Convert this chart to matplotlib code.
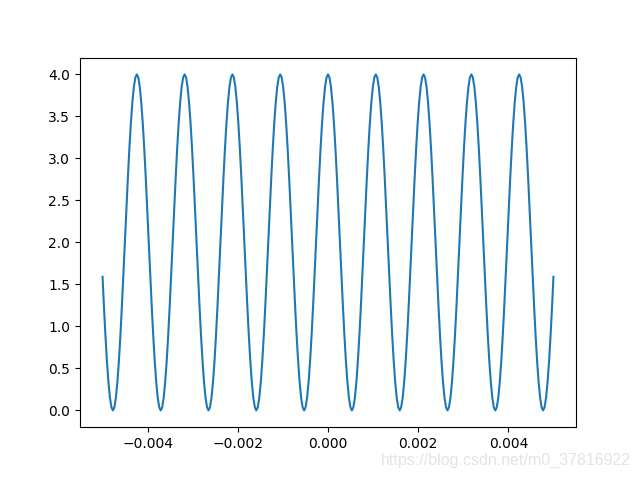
import numpy as np
import matplotlib
matplotlib.use('Agg')
import matplotlib.pyplot as plt

# one crest-to-crest cycle (crest 4.0, trough 0.0),
# 32 readings per cycle; the cycle is about 0.00106 wide and the trace
# repeats it from -0.005 to 0.005, with a crest at 0 and both ends at ~1.59
cycle = [4.000, 3.962, 3.848, 3.663, 3.414, 3.111, 2.765, 2.390,
         2.000, 1.610, 1.235, 0.889, 0.586, 0.337, 0.152, 0.038,
         0.000, 0.038, 0.152, 0.337, 0.586, 0.889, 1.235, 1.610,
         2.000, 2.390, 2.765, 3.111, 3.414, 3.663, 3.848, 3.962]
cycle_width = 0.00106
t_first, t_last = -0.005, 0.005
y_first, y_last = 1.59, 1.59
k_first, k_last = -150, 150

watermark = 'https://blog.csdn.net/m0_37816922'

t_step = cycle_width / len(cycle)
ks = np.arange(k_first, k_last + 1)
t = np.concatenate([[t_first], ks * t_step, [t_last]])
y = np.array([y_first] + [cycle[k % len(cycle)] for k in ks] + [y_last])

fig, ax = plt.subplots(figsize=(6.4, 4.8), dpi=100)
ax.plot(t, y)

fig.text(0.985, 0.04, watermark, ha='right', va='center', fontsize=11.5,
         family=['Liberation Sans', 'DejaVu Sans'], color='#e4e4e4')

fig.savefig('out.png')
